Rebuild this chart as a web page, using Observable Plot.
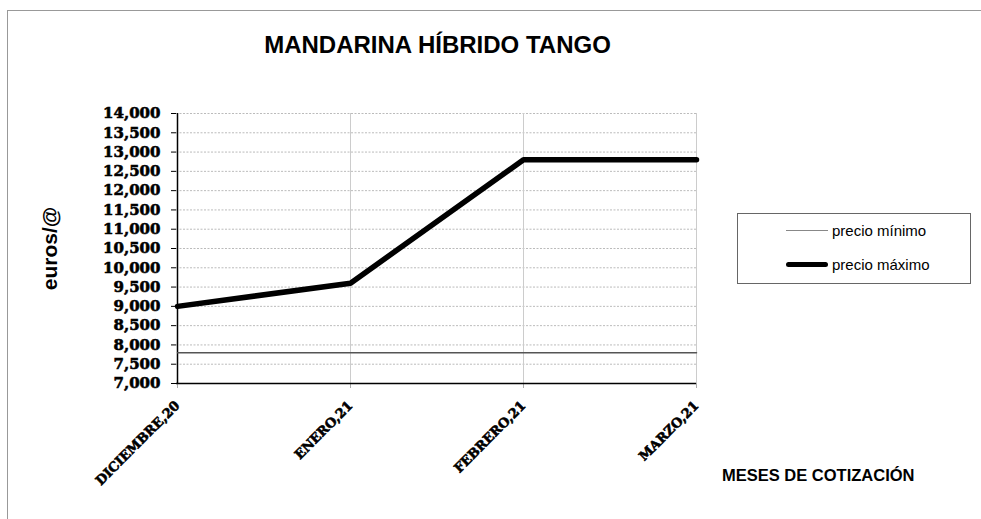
<!DOCTYPE html>
<html>
<head>
<meta charset="utf-8">
<script src="https://cdn.jsdelivr.net/npm/d3@7"></script>
<script src="https://cdn.jsdelivr.net/npm/@observablehq/plot@0.6"></script>
<style>
  html, body { margin: 0; padding: 0; background: #fff; }
  #wrap { position: relative; width: 981px; height: 519px; overflow: hidden; font-family: "Liberation Sans", Arial, sans-serif; }
  #wrap svg { position: absolute; left: 0; top: 0; }
  #frame { position: absolute; left: 7px; top: 10px; right: -5px; bottom: -5px; border-top: 1px solid #999; border-left: 1px solid #999; }
  #title { position: absolute; left: 0; width: 875px; top: 31px; text-align: center; font-weight: bold; font-size: 24px; color: #000; }
  #xlabel { position: absolute; left: 722px; top: 466px; font-weight: bold; font-size: 16.5px; color: #000; white-space: nowrap; }
  #legend { position: absolute; left: 737px; top: 213px; width: 232px; height: 69px; border: 1px solid #666; font-size: 15px; }
  .li { position: absolute; left: 48px; display: flex; align-items: center; white-space: nowrap; }
  .sw { width: 42px; margin-right: 4px; }
  g[aria-label="y-axis tick label"] text, g[aria-label="x-axis tick label"] text { stroke: #000; stroke-width: 0.6px; }
</style>
</head>
<body>
<div id="wrap">
  <div id="frame"></div>
  <div id="chart"></div>
  <div id="title">MANDARINA HÍBRIDO TANGO</div>
  <div id="xlabel">MESES DE COTIZACIÓN</div>
  <div id="legend">
    <div class="li" style="top:8px"><div class="sw" style="border-top:1.5px solid #888"></div><span>precio mínimo</span></div>
    <div class="li" style="top:42px"><div class="sw" style="border-top:5px solid #000;border-radius:3px"></div><span>precio máximo</span></div>
  </div>
</div>
<script>
const months = ["DICIEMBRE,20", "ENERO,21", "FEBRERO,21", "MARZO,21"];
const precioMinimo = [7.80, 7.80, 7.80, 7.80];
const precioMaximo = [9.00, 9.60, 12.80, 12.80];
const yTicks = d3.range(7, 14.0001, 0.5);

const minData = months.map((m, i) => ({mes: m, v: precioMinimo[i]}));
const maxData = months.map((m, i) => ({mes: m, v: precioMaximo[i]}));
const fmt = d => d.toFixed(3).replace(".", ",");

const chart = Plot.plot({
  width: 981,
  height: 519,
  marginLeft: 176,
  marginRight: 285,
  marginTop: 113,
  marginBottom: 136,
  style: {background: "transparent", overflow: "visible"},
  x: {type: "point", domain: months, padding: 0},
  y: {type: "linear", domain: [7, 14]},
  marks: [
    Plot.gridY(yTicks.slice(1), {stroke: "#bbb", strokeOpacity: 1, strokeDasharray: "2,1.5"}),
    Plot.gridX(months.slice(1), {stroke: "#ccc", strokeOpacity: 1, strokeWidth: 1}),
    Plot.axisX({
      ticks: months, tickSize: 5, tickRotate: -45, tickPadding: 15, stroke: "#aaa",
      fontFamily: "DejaVu Serif", fontWeight: "bold", fontSize: 13, fill: "#000", label: null
    }),
    Plot.axisY({
      ticks: yTicks, tickSize: 5, tickPadding: 11, tickFormat: fmt,
      fontFamily: "DejaVu Serif", fontWeight: "bold", fontSize: 15, fill: "#000",
      label: null
    }),
    Plot.axisY({
      ticks: [], tickSize: 0,
      label: "euros/@", labelAnchor: "center", labelArrow: "none", labelOffset: 134,
      fontFamily: "Liberation Sans", fontWeight: "bold", fontSize: 21, fill: "#000"
    }),
    Plot.ruleY([7], {stroke: "#000", strokeWidth: 1.5}),
    Plot.ruleX([months[0]], {stroke: "#000", strokeWidth: 1.5}),
    Plot.lineY(minData, {x: "mes", y: "v", stroke: "#555", strokeWidth: 1.5}),
    Plot.lineY(maxData, {x: "mes", y: "v", stroke: "#000", strokeWidth: 5.5, strokeLinejoin: "miter"})
  ]
});
document.getElementById("chart").appendChild(chart);
</script>
</body>
</html>
